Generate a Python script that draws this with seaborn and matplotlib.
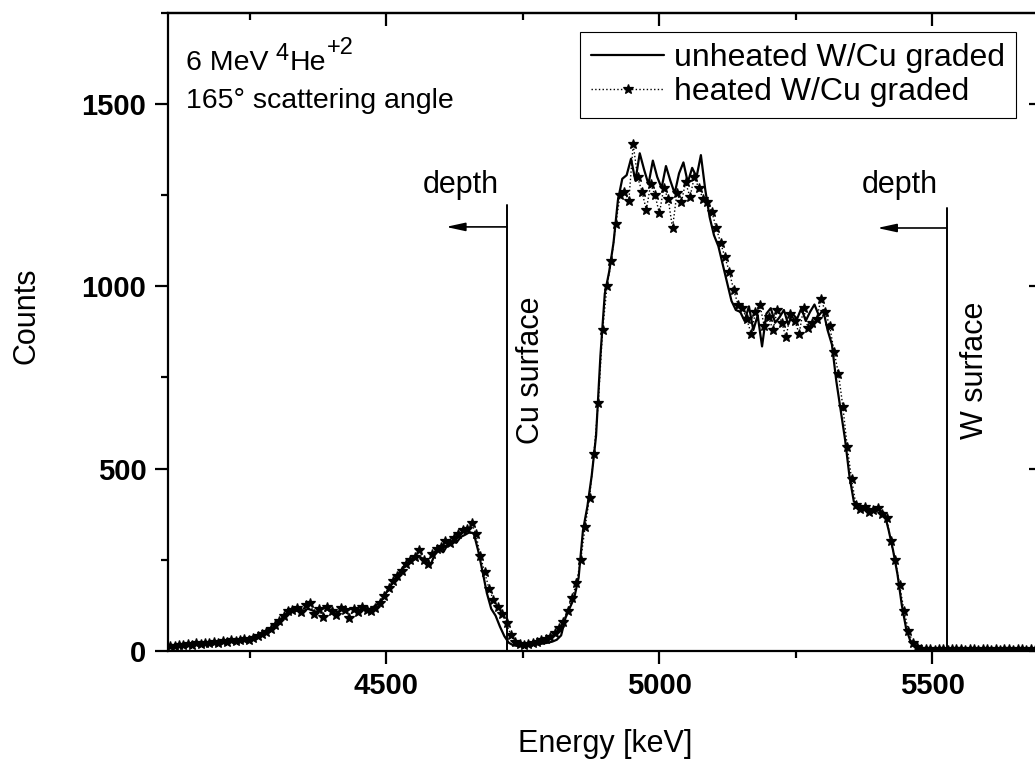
import numpy as np
import pandas as pd
import matplotlib
matplotlib.use("Agg")
import matplotlib.pyplot as plt
from matplotlib.ticker import MultipleLocator
import seaborn as sns

# ---------------- data ----------------
channel_start_unheated = 4100   # keV
channel_start_heated = 4104     # keV
channel_width = 8               # keV

unheated_counts = [
    12, 14, 13, 16, 15, 18, 17, 20, 19, 22, 21, 24, 23,
    25, 26, 27, 29, 28, 31, 33, 38, 42, 50, 56,
    62, 75, 88, 100, 106,
    110, 112, 108, 115, 111, 106, 113, 118, 109, 112, 105, 114, 110, 116, 108, 112, 117, 113, 120,
    128, 140, 160, 178, 198, 215, 232, 240,
    250, 262, 255, 245, 232, 262, 278, 270, 290, 300, 296, 312, 318, 325, 322,
    275, 218, 158, 115, 96, 66, 40, 22, 15, 13,
    12, 14, 15, 17, 18, 20, 22, 25, 30, 42,
    90, 118, 145, 200, 330, 395,
    480, 590, 810, 980, 1040, 1120, 1236, 1295,
    1305, 1350, 1290, 1365, 1320, 1280, 1345, 1300, 1270, 1330, 1290, 1255, 1310, 1340, 1285, 1325, 1300, 1360,
    1265, 1190, 1140, 1110, 1060, 1010, 960, 935,
    930, 905, 945, 880, 920, 835, 925, 940, 900, 915, 935, 895, 925, 910, 940, 905, 930, 950, 920, 935,
    880, 840, 740, 660, 580, 480, 410,
    395, 385, 390, 380, 388, 384, 378,
    330, 275, 210, 125, 60, 25, 10,
    6, 5, 4, 5, 3, 4, 5, 4, 3, 5, 4, 3, 4, 5, 3, 4, 3, 4, 5, 3, 4, 3, 4, 3, 5, 4, 3, 4,
]

heated_counts = [
    14, 12, 17, 15, 19, 16, 21, 18, 22, 20, 25, 22, 26,
    24, 28, 27, 30, 32, 30, 36, 40, 45, 52, 60,
    70, 82, 95, 108, 112,
    118, 105, 125, 132, 100, 115, 92, 120, 110, 98, 118, 112, 90, 115, 105, 120, 112, 108, 118,
    132, 150, 172, 190, 205, 220, 238, 250,
    258, 275, 250, 238, 265, 280, 285, 300, 295, 310, 320, 330, 335, 350, 320,
    260, 215, 170, 140, 120, 100, 75, 42, 25, 18,
    16, 18, 22, 25, 28, 32, 38, 48, 62, 80,
    110, 145, 185, 250, 340, 420,
    540, 680, 880, 1000, 1070, 1170, 1250, 1260,
    1235, 1390, 1300, 1260, 1210, 1280, 1250, 1200, 1270, 1240, 1160, 1255, 1230, 1285, 1245, 1300, 1270, 1240,
    1230, 1205, 1160, 1120, 1080, 1040, 990, 950,
    940, 910, 870, 930, 950, 890, 915, 880, 935, 900, 860, 925, 905, 870, 940, 885, 900, 910, 965, 930,
    890, 820, 760, 670, 560, 470, 400,
    390, 395, 380, 385, 392, 375, 365,
    300, 250, 180, 110, 55, 22, 10,
    5, 4, 6, 3, 5, 4, 3, 5, 4, 6, 3, 4, 5, 3, 4, 5, 3, 4, 3, 5, 4, 3, 4, 5, 3, 4, 3, 4,
]

series_labels = ["unheated W/Cu graded", "heated W/Cu graded"]
x_ticks = [4500, 5000, 5500]
y_ticks = [0, 500, 1000, 1500]
cu_surface_kev = 4721
w_surface_kev = 5526

# ---------------- frame ----------------
energy_unheated = channel_start_unheated + channel_width * np.arange(len(unheated_counts))
energy_heated = channel_start_heated + channel_width * np.arange(len(heated_counts))

df_u = pd.DataFrame({"Energy": energy_unheated, "Counts": unheated_counts})
df_h = pd.DataFrame({"Energy": energy_heated, "Counts": heated_counts})

sns.set_style("ticks")
plt.rcParams["font.family"] = ["Liberation Sans", "DejaVu Sans"]
plt.rcParams["text.color"] = "black"
plt.rcParams["axes.labelcolor"] = "black"
plt.rcParams["xtick.color"] = "black"
plt.rcParams["ytick.color"] = "black"
plt.rcParams["axes.edgecolor"] = "black"

fig = plt.figure(figsize=(10.35, 7.62), dpi=100)
ax = fig.add_axes([0.16232, 0.14606, 0.84406, 0.83688])

sns.lineplot(data=df_u, x="Energy", y="Counts", ax=ax, color="black",
             linewidth=1.6, linestyle="-", estimator=None, sort=False,
             label=series_labels[0])
sns.lineplot(data=df_h, x="Energy", y="Counts", ax=ax, color="black",
             linewidth=1.0, linestyle=":", marker="*", markersize=7,
             markeredgewidth=0.9, markeredgecolor="black", estimator=None, sort=False,
             label=series_labels[1])

ax.set_xlim(4100, 5700)
ax.set_ylim(0, 1750)

for s in ax.spines.values():
    s.set_visible(True)
    s.set_linewidth(1.6)
    s.set_color("black")

ax.set_xticks(x_ticks)
ax.set_yticks(y_ticks)
ax.xaxis.set_minor_locator(MultipleLocator(250))
ax.yaxis.set_minor_locator(MultipleLocator(250))
ax.tick_params(axis="both", which="major", direction="out", length=9.5, width=1.6,
               labelsize=21, pad=6, top=False, right=False, colors="black")
ax.tick_params(axis="both", which="minor", direction="out", length=5, width=1.6,
               top=False, right=False, colors="black")
for lbl in ax.get_xticklabels() + ax.get_yticklabels():
    lbl.set_fontweight("bold")

secx = ax.secondary_xaxis("top")
secx.set_xticks(x_ticks)
secx.xaxis.set_minor_locator(MultipleLocator(250))
secx.tick_params(axis="x", which="major", direction="in", length=9.5, width=1.6, labeltop=False)
secx.tick_params(axis="x", which="minor", direction="in", length=5, width=1.6)
secx.spines["top"].set_linewidth(1.6)

secy = ax.secondary_yaxis("right")
secy.set_yticks(y_ticks)
secy.yaxis.set_minor_locator(MultipleLocator(250))
secy.tick_params(axis="y", which="major", direction="in", length=9.5, width=1.6, labelright=False)
secy.tick_params(axis="y", which="minor", direction="in", length=5, width=1.6)
secy.spines["right"].set_linewidth(1.6)

ax.set_xlabel("Energy [keV]", fontsize=22)
ax.set_ylabel("Counts", fontsize=22)
ax.xaxis.set_label_coords(0.500, -0.122)
ax.yaxis.set_label_coords(-0.145, 0.525)

# surface markers and depth arrows
for surf, top, tip, ay, dx in [(cu_surface_kev, 1223, 4609, 1163, 4637),
                                (w_surface_kev, 1215, 5399, 1160, 5441)]:
    ax.plot([surf, surf], [0, top], color="black", linewidth=1.4)
    ax.annotate("", xy=(tip, ay), xytext=(surf, ay),
                arrowprops=dict(arrowstyle="-|>,head_length=1.15,head_width=0.25",
                                color="black", lw=1.2, shrinkA=0, shrinkB=0))
    ax.text(dx, 1255, "depth", fontsize=22, ha="center", va="baseline")

ax.text(4764, 770, "Cu surface", rotation=90, fontsize=22, ha="center", va="center")
ax.text(5578, 770, "W surface", rotation=90, fontsize=22, ha="center", va="center")

# beam annotation with raised superscripts
t1 = ax.text(0.0206, 0.9105, "6 MeV", transform=ax.transAxes,
             fontsize=20.5, ha="left", va="baseline")
t2 = ax.annotate("4", xy=(1, 0), xycoords=t1, xytext=(5, 8),
                 textcoords="offset points", fontsize=17, ha="left", va="bottom")
t3 = ax.annotate("He", xy=(1, 0), xycoords=t2, xytext=(0.5, -8),
                 textcoords="offset points", fontsize=20.5, ha="left", va="bottom")
t4 = ax.annotate("+2", xy=(1, 0), xycoords=t3, xytext=(1, 12),
                 textcoords="offset points", fontsize=17, ha="left", va="bottom")
ax.text(0.0206, 0.8505, "165° scattering angle", transform=ax.transAxes,
        fontsize=20.5, ha="left", va="baseline")

leg = ax.legend(loc="upper right", bbox_to_anchor=(0.9707, 0.970), fontsize=23,
                frameon=True, fancybox=False, edgecolor="black", framealpha=1,
                borderpad=0.35, labelspacing=0.12, handlelength=2.3,
                handletextpad=0.3, borderaxespad=0, numpoints=1)
leg.get_frame().set_linewidth(0.8)

fig.savefig("out.png", dpi=100)
